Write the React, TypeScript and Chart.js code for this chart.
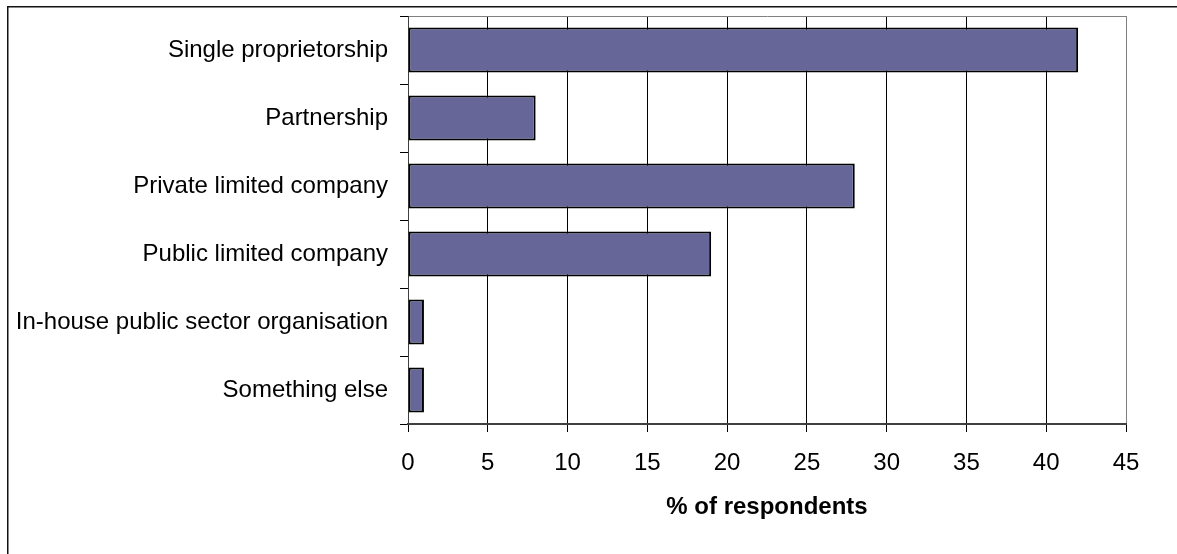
import React, { useEffect, useRef } from "react";
import { Chart, registerables } from "chart.js";

Chart.register(...registerables);

const categories = [
  "Single proprietorship",
  "Partnership",
  "Private limited company",
  "Public limited company",
  "In-house public sector organisation",
  "Something else",
];
const values = [42, 8, 28, 19, 1, 1];
const xMin = 0;
const xMax = 45;
const xStep = 5;
const axisTitle = "% of respondents";

const FONT = "'Liberation Sans', Arial, sans-serif";

const framePlugin = {
  id: "frame",
  beforeDraw(chart: any) {
    const ctx = chart.ctx;
    ctx.save();
    ctx.fillStyle = "#ffffff";
    ctx.fillRect(0, 0, chart.width, chart.height);
    ctx.fillStyle = "#111111";
    ctx.fillRect(7, 6, chart.width - 7, 1.5);
    ctx.fillRect(7, 6, 1.5, chart.height - 6);
    ctx.restore();
  },
};

export default function App() {
  const ref = useRef<HTMLCanvasElement | null>(null);

  useEffect(() => {
    if (!ref.current) return;
    const chart = new Chart(ref.current, {
      type: "bar",
      data: {
        labels: categories,
        datasets: [
          {
            data: values,
            backgroundColor: "#666699",
            borderColor: "#000000",
            borderWidth: 2,
            borderSkipped: false,
            categoryPercentage: 1,
            barPercentage: 0.66,
          },
        ],
      },
      plugins: [framePlugin],
      options: {
        indexAxis: "y",
        responsive: false,
        animation: false,
        devicePixelRatio: 1,
        layout: { padding: { left: 0, top: 16, right: 51, bottom: 0 } },
        plugins: {
          legend: { display: false },
          tooltip: { enabled: false },
        },
        scales: {
          x: {
            type: "linear",
            min: xMin,
            max: xMax,
            afterFit: (s: any) => {
              s.height = 130;
              s.paddingLeft = 0;
              s.paddingRight = 0;
            },
            ticks: {
              stepSize: xStep,
              padding: 17,
              color: "#000",
              font: { family: FONT, size: 24 },
            },
            grid: {
              color: (c: any) => (c.index === 9 ? "#808080" : "#000000"),
              tickColor: "#000000",
              tickLength: 8,
              lineWidth: 1,
            },
            border: { color: "#404040", width: 2 },
            title: {
              display: true,
              text: axisTitle,
              color: "#000",
              font: { family: FONT, size: 24, weight: "bold" },
              padding: { top: 0, bottom: 32 },
            },
          },
          y: {
            afterFit: (s: any) => {
              s.width = 408;
              s.paddingTop = 0;
              s.paddingBottom = 0;
            },
            ticks: {
              padding: 12,
              color: "#000",
              font: { family: FONT, size: 24 },
            },
            grid: {
              offset: true,
              color: (c: any) => (c.index === 0 ? "#808080" : "rgba(0,0,0,0)"),
              tickColor: "#000000",
              tickLength: 8,
              lineWidth: 1,
            },
            border: { color: "#404040", width: 1 },
          },
        },
      },
    } as any);
    return () => chart.destroy();
  }, []);

  return (
    <div style={{ position: "fixed", left: 0, top: 0, width: 1177, height: 554, overflow: "hidden" }}>
      <canvas ref={ref} width={1177} height={554} style={{ display: "block" }} />
    </div>
  );
}
